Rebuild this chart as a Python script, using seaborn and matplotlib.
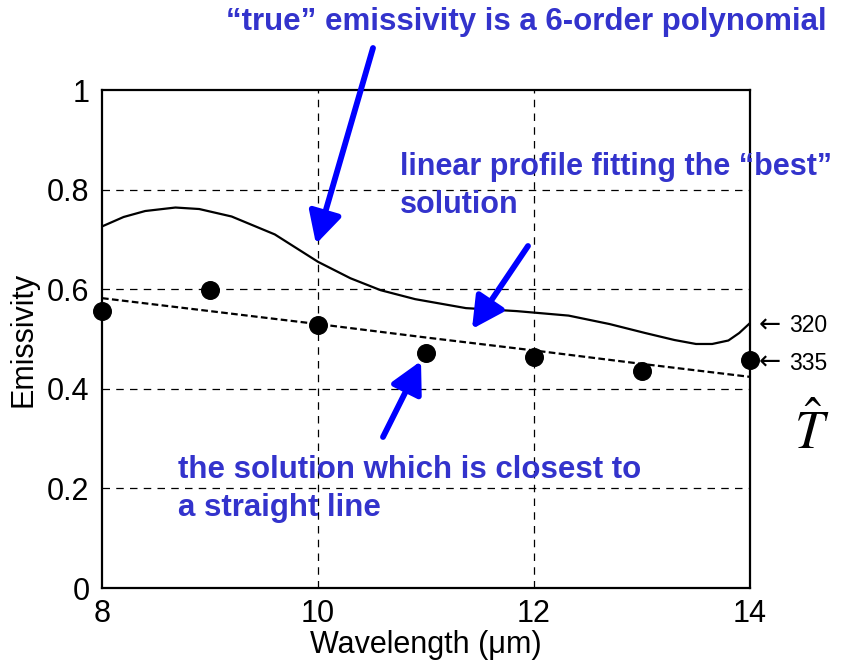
import matplotlib
matplotlib.use("Agg")
import matplotlib.pyplot as plt
import seaborn as sns
import pandas as pd

# ---- data ----
true_wl = [8.0, 8.2, 8.4, 8.68, 8.9, 9.2, 9.6, 10.0, 10.3, 10.58, 10.9, 11.37, 11.84, 12.32, 12.7, 13.03, 13.3, 13.5, 13.65, 13.8, 13.9, 14.0]
true_em = [0.726, 0.745, 0.757, 0.764, 0.761, 0.746, 0.710, 0.655, 0.622, 0.598, 0.580, 0.562, 0.556, 0.547, 0.530, 0.512, 0.498, 0.490, 0.490, 0.497, 0.512, 0.532]
lin_wl = [8, 9, 10, 11, 12, 13, 14]
lin_em = [0.582, 0.556, 0.530, 0.503, 0.477, 0.450, 0.424]
sol_wl = [8, 9, 10, 11, 12, 13, 14]
sol_em = [0.556, 0.598, 0.528, 0.472, 0.464, 0.436, 0.458]
xticks = [8, 10, 12, 14]
yticks = [0, 0.2, 0.4, 0.6, 0.8, 1]
ytick_labels = ["0", "0.2", "0.4", "0.6", "0.8", "1"]
temp_labels = ["320", "335"]

sns.set_theme(style="white")
plt.rcParams['font.family'] = ['Liberation Sans', 'DejaVu Sans']
plt.rcParams['mathtext.fontset'] = 'stix'

fig = plt.figure(figsize=(8.52, 6.65), dpi=100)
ax = fig.add_axes([102/852, 1-588/665, 648/852, 498/665])

df_true = pd.DataFrame({"wl": true_wl, "em": true_em})
df_lin = pd.DataFrame({"wl": lin_wl, "em": lin_em})
df_sol = pd.DataFrame({"wl": sol_wl, "em": sol_em})

sns.lineplot(data=df_true, x="wl", y="em", ax=ax, color="black", lw=1.6, sort=False)
sns.lineplot(data=df_lin, x="wl", y="em", ax=ax, color="black", lw=1.6, linestyle=(0, (3, 1.5)))
sns.scatterplot(data=df_sol, x="wl", y="em", ax=ax, color="black", s=160, edgecolor="black", zorder=5, clip_on=False)

ax.set_xlim(8, 14)
ax.set_ylim(0, 1)
ax.set_xticks(xticks)
ax.set_yticks(yticks)
ax.set_yticklabels(ytick_labels)
ax.tick_params(labelsize=22, direction="in", length=0, labelcolor="black")
ax.tick_params(axis="y", pad=9)
ax.tick_params(axis="x", pad=8)
for s in ax.spines.values():
    s.set_color("black")
    s.set_linewidth(1.6)
for v in [10, 12]:
    ax.axvline(v, color="black", lw=0.9, ls=(0, (6, 5)), zorder=0)
for h in [0.2, 0.4, 0.6, 0.8]:
    ax.axhline(h, color="black", lw=0.9, ls=(0, (6, 5)), zorder=0)
ax.set_xlabel("Wavelength (\u03bcm)", fontsize=22, labelpad=1, color="black")
ax.set_ylabel("Emissivity", fontsize=22, labelpad=6, color="black")

tc = "#3333CC"
fig.text(526/852, 1-22/665, "\u201ctrue\u201d emissivity is a 6-order polynomial", color=tc,
         fontsize=22.5, fontweight="bold", ha="center", va="center")
fig.text(400/852, 1-186/665, "linear profile fitting the \u201cbest\u201d\nsolution", color=tc,
         fontsize=22, fontweight="bold", ha="left", va="center", linespacing=1.32)
fig.text(178/852, 1-489/665, "the solution which is closest to\na straight line", color=tc,
         fontsize=22.5, fontweight="bold", ha="left", va="center", linespacing=1.32)

arrow_kw = dict(arrowstyle="-|>,head_length=0.95,head_width=0.5", color="#0000FF", lw=4.2)
def farrow(tail, tip):
    fig.add_artist(matplotlib.patches.FancyArrowPatch(
        (tail[0]/852, 1-tail[1]/665), (tip[0]/852, 1-tip[1]/665),
        transform=fig.transFigure, mutation_scale=20, shrinkA=0, shrinkB=0, **arrow_kw))
farrow((373, 48), (316, 244))
farrow((528, 246), (472, 329))
farrow((383, 437), (421, 361))

for lab, yp in zip(temp_labels, [326, 363]):
    fig.text(759/852, 1-yp/665, "\u2190", fontsize=19, ha="left", va="center", color="black",
             family=["DejaVu Sans"])
    fig.text(789/852, 1-yp/665, lab, fontsize=16.5, ha="left", va="center", color="black")
fig.text(812/852, 1-432/665, r"$\hat{T}$", fontsize=38, ha="center", va="center", color="black")

fig.savefig("out.png", dpi=100)
